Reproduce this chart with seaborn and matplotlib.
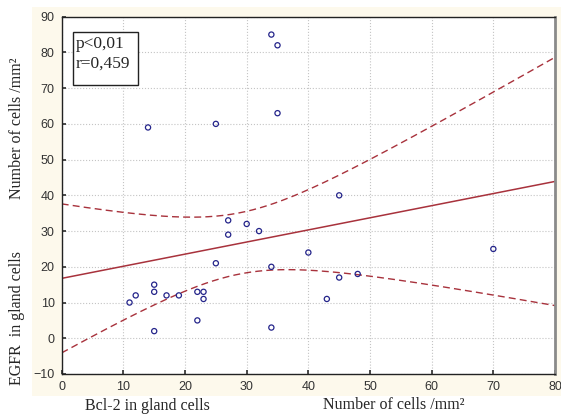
import numpy as np
import pandas as pd
import matplotlib
matplotlib.use("Agg")
import matplotlib.pyplot as plt
import seaborn as sns
from matplotlib.patches import Rectangle

# Bcl-2 (x) vs EGFR (y), cells /mm2
bcl2 = [34, 35, 35, 14, 25, 45, 27, 30, 32, 27, 40, 25, 34, 45, 48,
        15, 12, 15, 17, 19, 22, 23, 23, 11, 43, 22, 15, 34, 70]
egfr = [85, 82, 63, 59, 60, 40, 33, 32, 30, 29, 24, 21, 20, 17, 18,
        15, 12, 13, 12, 12, 13, 13, 11, 10, 11, 5, 2, 3, 25]
x_ticks = [0, 10, 20, 30, 40, 50, 60, 70, 80]
y_ticks = [-10, 0, 10, 20, 30, 40, 50, 60, 70, 80, 90]
stats_text = "p<0,01\nr=0,459"

sns.set_theme(style="white")
plt.rcParams["font.family"] = ["Liberation Sans", "DejaVu Sans"]

df = pd.DataFrame({"Bcl2": bcl2, "EGFR": egfr})

fig = plt.figure(figsize=(5.61, 4.15), dpi=100)
fig.patch.set_facecolor("white")
# cream panel behind the plot
fig.add_artist(Rectangle((32 / 561, 1 - 396 / 415), 1, (396 - 7) / 415,
                         transform=fig.transFigure, facecolor="#fdf9ec",
                         edgecolor="none", zorder=-5))

ax = fig.add_axes([61.7 / 561, 1 - 374 / 415, (555 - 61.7) / 561, (374 - 16.7) / 415])
ax.set_zorder(1)
ax.set_facecolor("white")
ax.set_xlim(0, 80)
ax.set_ylim(-10, 90)

# regression fit and 95% confidence band of the mean
xv = df["Bcl2"].to_numpy(float)
yv = df["EGFR"].to_numpy(float)
n = len(xv)
slope, intercept = np.polyfit(xv, yv, 1)
resid = yv - (intercept + slope * xv)
s = np.sqrt(np.sum(resid ** 2) / (n - 2))
sxx = np.sum((xv - xv.mean()) ** 2)
xs = np.linspace(0, 80, 200)
fit = intercept + slope * xs
half = 2.052 * s * np.sqrt(1 / n + (xs - xv.mean()) ** 2 / sxx)

red = "#a8323c"
ax.plot(xs, fit, color=red, lw=1.1)
ax.plot(xs, fit + half, color=red, lw=1.0, ls=(0, (5, 3)))
ax.plot(xs, fit - half, color=red, lw=1.0, ls=(0, (5, 3)))

sns.scatterplot(data=df, x="Bcl2", y="EGFR", ax=ax, marker="o", s=14,
                facecolor="none", edgecolor="#24248a", linewidth=0.9, zorder=3)

ax.set_xticks(x_ticks)
ax.set_yticks(y_ticks)
ax.tick_params(labelsize=9, colors="#333333", length=3, direction="in", pad=5)
ax.tick_params(axis="both", left=True, bottom=True)
ax.grid(True, color="#c4c4c4", linestyle=":", linewidth=0.8)
ax.set_xlabel("")
ax.set_ylabel("")
for side in ["left", "bottom", "top"]:
    ax.spines[side].set_color("#222222")
    ax.spines[side].set_linewidth(1.0)
ax.spines["right"].set_color("#8a8a8a")
ax.spines["right"].set_linewidth(2.0)

# statistics box
ax.add_patch(Rectangle((0.0223, 0.809), 0.133, 0.149, transform=ax.transAxes,
                       facecolor="white", edgecolor="#222222", linewidth=1.0, zorder=4))
ax.text(0.029, 0.945, stats_text, transform=ax.transAxes, va="top", ha="left",
        fontsize=12.5, family="Liberation Serif", linespacing=1.3, zorder=5)

serif = "Liberation Serif"
fig.text(147 / 561, 1 - 406 / 415, "Bcl-2 in gland cells", ha="center", va="center",
         fontsize=11.5, family=serif)
fig.text(394 / 561, 1 - 405 / 415, "Number of cells /mm²", ha="center", va="center",
         fontsize=11.5, family=serif)
fig.text(17 / 561, 1 - 318 / 415, "EGFR  in gland cells", ha="center", va="center",
         rotation=90, fontsize=11.5, family=serif)
fig.text(17 / 561, 1 - 128 / 415, "Number of cells /mm²", ha="center", va="center",
         rotation=90, fontsize=11.5, family=serif)

fig.savefig("out.png", dpi=100)
